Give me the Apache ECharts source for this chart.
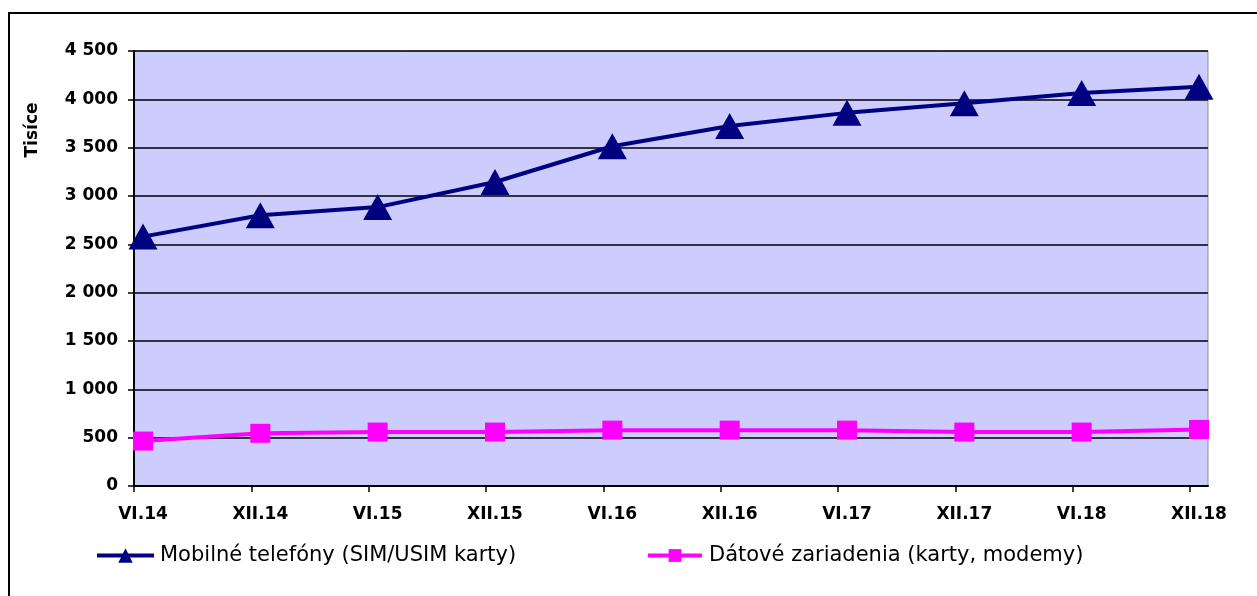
<!DOCTYPE html>
<html>
<head>
<meta charset="utf-8">
<script src="https://cdn.jsdelivr.net/npm/echarts@6/dist/echarts.min.js"></script>
<style>
  html, body { margin: 0; padding: 0; background: #fff; }
  #main { width: 1257px; height: 596px; }
</style>
</head>
<body>
<div id="main"></div>
<script>
const categories = ['VI.14', 'XII.14', 'VI.15', 'XII.15', 'VI.16', 'XII.16', 'VI.17', 'XII.17', 'VI.18', 'XII.18'];
const mobileValues = [2580, 2800, 2885, 3145, 3515, 3725, 3860, 3960, 4065, 4130];
const dataDeviceValues = [465, 545, 558, 558, 578, 578, 578, 558, 558, 585];
const seriesNames = ['Mobilné telefóny (SIM/USIM karty)', 'Dátové zariadenia (karty, modemy)'];
const yTicks = [0, 500, 1000, 1500, 2000, 2500, 3000, 3500, 4000, 4500];

const chart = echarts.init(document.getElementById('main'));
const font = 'DejaVu Sans, Liberation Sans, sans-serif';

// thousands with a space, like "4 500"
const fmt = v => String(v).replace(/\B(?=(\d{3})+(?!\d))/g, ' ');
const tickIdx = categories.map((c, i) => i);

const option = {
  animation: false,
  textStyle: { fontFamily: font },
  graphic: [
    {
      type: 'rect',
      shape: { x: 9, y: 13, width: 1300, height: 700 },
      style: { fill: 'none', stroke: '#000', lineWidth: 2 },
      silent: true
    },
    {
      type: 'text',
      x: 33, y: 130,
      rotation: Math.PI / 2,
      style: {
        text: 'Tisíce', fontFamily: font, fontSize: 17, fontWeight: 'bold',
        fill: '#000', align: 'center', verticalAlign: 'middle'
      }
    }
  ],
  legend: [
    {
      data: [seriesNames[0]],
      left: 90, top: 540,
      itemWidth: 57, itemHeight: 18,
      lineStyle: { width: 4 },
      textStyle: { fontFamily: font, fontSize: 21, color: '#000', padding: [0, 0, 0, 1] }
    },
    {
      data: [seriesNames[1]],
      left: 641, top: 540,
      itemWidth: 54, itemHeight: 16,
      lineStyle: { width: 4 },
      textStyle: { fontFamily: font, fontSize: 21, color: '#000', padding: [0, 0, 0, 2] }
    }
  ],
  grid: [
    {
      left: 134, right: 49, top: 51, bottom: 110,
      show: true, backgroundColor: '#CCCCFF',
      borderColor: '#909090', borderWidth: 1
    },
    { left: 143, right: 58, top: 51, bottom: 110 }
  ],
  xAxis: [
    {
      type: 'value', gridIndex: 0,
      min: 0, max: 1074 / 117.33,
      axisLine: { show: true, lineStyle: { color: '#000', width: 2 } },
      axisTick: { show: true, length: 6, lineStyle: { color: '#000', width: 1.5 }, customValues: tickIdx },
      splitLine: { show: false },
      axisLabel: { show: false }
    },
    {
      type: 'category', gridIndex: 1, boundaryGap: false,
      data: categories,
      axisLine: { show: false },
      axisTick: { show: false },
      axisLabel: {
        margin: 20,
        color: '#000', fontFamily: font, fontSize: 17, fontWeight: 'bold'
      }
    }
  ],
  yAxis: [
    {
      type: 'value', gridIndex: 0,
      min: 0, max: 4500, interval: 500,
      axisLine: { show: true, lineStyle: { color: '#000', width: 2 } },
      axisTick: { show: true, length: 6, lineStyle: { color: '#000', width: 1.5 } },
      splitLine: { show: true, lineStyle: { color: '#000', width: 1.5 } },
      axisLabel: {
        formatter: v => yTicks.includes(v) ? fmt(v) : '',
        margin: 16,
        color: '#000', fontFamily: font, fontSize: 17, fontWeight: 'bold'
      }
    },
    {
      type: 'value', gridIndex: 1,
      min: 0, max: 4500, show: false
    }
  ],
  series: [
    {
      name: seriesNames[0],
      type: 'line',
      xAxisIndex: 1, yAxisIndex: 1,
      data: mobileValues,
      symbol: 'triangle', symbolSize: [29, 26],
      lineStyle: { color: '#000080', width: 4 },
      itemStyle: { color: '#000080' }
    },
    {
      name: seriesNames[1],
      type: 'line',
      xAxisIndex: 1, yAxisIndex: 1,
      data: dataDeviceValues,
      symbol: 'rect', symbolSize: [20, 19],
      lineStyle: { color: '#FF00FF', width: 4 },
      itemStyle: { color: '#FF00FF' }
    }
  ]
};

chart.setOption(option);
</script>
</body>
</html>
